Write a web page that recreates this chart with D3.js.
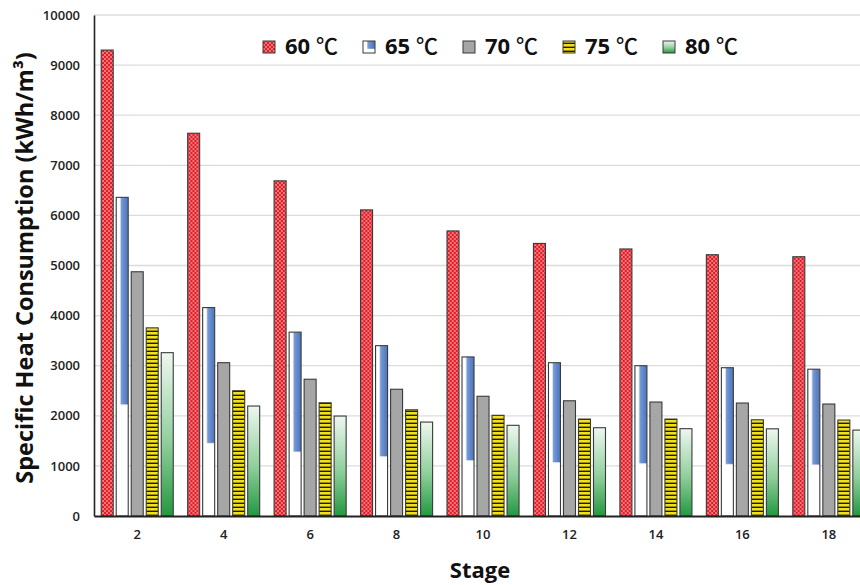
<!DOCTYPE html>
<html>
<head>
<meta charset="utf-8">
<script src="https://cdn.jsdelivr.net/npm/d3@7"></script>
<style>
  html, body { margin: 0; padding: 0; background: #fff; }
  svg { display: block; font-family: "Open Sans", "DejaVu Sans", sans-serif; }
</style>
</head>
<body>
<svg id="chart" width="860" height="585"></svg>
<script>
// Stage numbers on the x axis
const stages = [2, 4, 6, 8, 10, 12, 14, 16, 18];
// Series names (feed temperature)
const seriesNames = ["60 ℃", "65 ℃", "70 ℃", "75 ℃", "80 ℃"];
// Specific heat consumption per stage, kWh/m³
const t60 = [9300, 7640, 6690, 6110, 5690, 5440, 5330, 5215, 5175];
const t65 = [6360, 4160, 3670, 3400, 3175, 3060, 3000, 2960, 2930];
const t70 = [4875, 3060, 2730, 2530, 2390, 2300, 2275, 2255, 2235];
const t75 = [3755, 2500, 2260, 2120, 2010, 1935, 1935, 1920, 1915];
const t80 = [3260, 2195, 1995, 1875, 1810, 1762, 1743, 1740, 1715];
const yTicks = [0, 1000, 2000, 3000, 4000, 5000, 6000, 7000, 8000, 9000, 10000];

const seriesValues = [t60, t65, t70, t75, t80];
const fills = ["url(#pRed)", "url(#pBlue)", "#a6a6a6", "url(#pYellow)", "url(#gGreen)"];

const svg = d3.select("#chart");
const W = 860, H = 585;
const m = { left: 94, top: 15, bottom: 516 };

// ---- fills ----
const defs = svg.append("defs");

const pRed = defs.append("pattern").attr("id", "pRed")
  .attr("patternUnits", "userSpaceOnUse").attr("width", 4).attr("height", 4);
pRed.append("rect").attr("width", 4).attr("height", 4).attr("fill", "#e31c25");
pRed.append("circle").attr("cx", 1).attr("cy", 1).attr("r", 0.75).attr("fill", "#ffffff");
pRed.append("circle").attr("cx", 3).attr("cy", 3).attr("r", 0.75).attr("fill", "#ffffff");

// white bar with a blue panel over its upper-right part
const pBlue = defs.append("pattern").attr("id", "pBlue")
  .attr("patternUnits", "objectBoundingBox").attr("patternContentUnits", "objectBoundingBox")
  .attr("width", 1).attr("height", 1);
pBlue.append("rect").attr("width", 1).attr("height", 1).attr("fill", "#ffffff");
pBlue.append("rect").attr("x", 0.36).attr("y", 0).attr("width", 0.64).attr("height", 0.65)
  .attr("fill", "url(#gBlue)");
const gBlue = defs.append("linearGradient").attr("id", "gBlue")
  .attr("x1", 0).attr("x2", 1).attr("y1", 0).attr("y2", 0);
gBlue.append("stop").attr("offset", "0%").attr("stop-color", "#7c9fdb");
gBlue.append("stop").attr("offset", "55%").attr("stop-color", "#5f86c9");
gBlue.append("stop").attr("offset", "100%").attr("stop-color", "#4f74b8");

const pYellow = defs.append("pattern").attr("id", "pYellow")
  .attr("patternUnits", "userSpaceOnUse").attr("width", 4).attr("height", 4);
pYellow.append("rect").attr("width", 4).attr("height", 4).attr("fill", "#f1e11c");
pYellow.append("rect").attr("y", 2.6).attr("width", 4).attr("height", 1.4).attr("fill", "#1d1a05");

const gGreen = defs.append("linearGradient").attr("id", "gGreen")
  .attr("x1", 0).attr("x2", 0).attr("y1", 0).attr("y2", 1);
gGreen.append("stop").attr("offset", "0%").attr("stop-color", "#eef7ef");
gGreen.append("stop").attr("offset", "55%").attr("stop-color", "#8fcf9b");
gGreen.append("stop").attr("offset", "100%").attr("stop-color", "#23983f");

// ---- scales ----
const x0 = d3.scaleBand().domain(stages).range([m.left, m.left + 9 * 86.45]).paddingInner(0).paddingOuter(0);
const x1 = d3.scaleBand().domain(d3.range(seriesNames.length))
  .range([0, x0.bandwidth()]).paddingInner(0.2).paddingOuter(0.48);
const y = d3.scaleLinear().domain([0, 10000]).range([m.bottom, m.top]);

// ---- gridlines ----
svg.append("g").selectAll("line").data(yTicks.filter(d => d > 0)).join("line")
  .attr("x1", m.left).attr("x2", W)
  .attr("y1", d => y(d)).attr("y2", d => y(d))
  .attr("stroke", "#dcdcdc").attr("stroke-width", 1.3);

// ---- bars ----
const groups = svg.append("g").selectAll("g").data(stages).join("g")
  .attr("transform", d => `translate(${x0(d)},0)`);

groups.selectAll("rect")
  .data((s, i) => seriesValues.map((vals, k) => ({ k, v: vals[i] })))
  .join("rect")
  .attr("x", d => x1(d.k))
  .attr("width", x1.bandwidth())
  .attr("y", d => y(d.v))
  .attr("height", d => y(0) - y(d.v))
  .attr("fill", d => fills[d.k])
  .attr("stroke", "#3a3a3a")
  .attr("stroke-width", 1.1);

// ---- axes ----
const yAxis = d3.axisLeft(y).tickValues(yTicks).tickSize(0).tickPadding(14).tickFormat(d3.format("d"));
const gy = svg.append("g").attr("transform", `translate(${m.left},0)`).call(yAxis);
gy.select(".domain").attr("stroke", "#222").attr("stroke-width", 1.6);
gy.selectAll("text").attr("font-size", 13).attr("font-weight", 600).attr("fill", "#222")
  .attr("font-family", "'Open Sans', sans-serif");

const xAxis = d3.axisBottom(x0).tickSize(0).tickPadding(14);
const gx = svg.append("g").attr("transform", `translate(0,${m.bottom})`).call(xAxis);
gx.select(".domain").attr("stroke", "#222").attr("stroke-width", 2);
gx.selectAll("text").attr("font-size", 13).attr("font-weight", 600).attr("fill", "#222")
  .attr("font-family", "'Open Sans', sans-serif");

// ---- axis titles ----
svg.append("text")
  .attr("transform", `translate(33,268) rotate(-90)`)
  .attr("text-anchor", "middle")
  .attr("font-size", 23.5).attr("font-weight", 700).attr("fill", "#111")
  .text("Specific Heat Consumption (kWh/m³)");

svg.append("text")
  .attr("x", 480).attr("y", 578)
  .attr("text-anchor", "middle")
  .attr("font-size", 22).attr("font-weight", 700).attr("fill", "#111")
  .text("Stage");

// ---- legend ----
const legend = svg.append("g").selectAll("g").data(seriesNames).join("g")
  .attr("transform", (d, i) => `translate(${263 + i * 100},0)`);
legend.append("rect")
  .attr("x", 0).attr("y", 41).attr("width", 12).attr("height", 12)
  .attr("fill", (d, i) => fills[i]).attr("stroke", "#3a3a3a").attr("stroke-width", 1);
const lt = legend.append("text")
  .attr("x", 22).attr("y", 54)
  .attr("font-size", 22).attr("font-weight", 700).attr("fill", "#111");
lt.append("tspan").text(d => d.split(" ")[0] + " ");
lt.append("tspan")
  .attr("font-family", "'Noto Sans CJK SC', sans-serif").attr("font-weight", 500)
  .text(d => d.split(" ")[1]);
</script>
</body>
</html>
